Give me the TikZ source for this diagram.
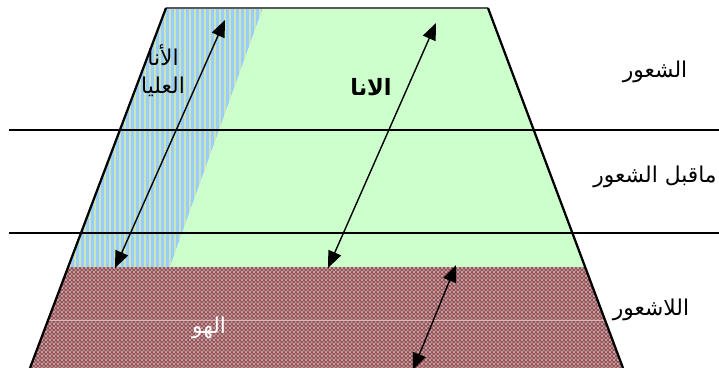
\documentclass[tikz,border=0pt]{standalone}
\usepackage{fontspec}
\usepackage{tikz}
\usetikzlibrary{arrows.meta,patterns}
\TeXXeTstate=1
\newfontfamily\arabicfont[Script=Arabic]{DejaVu Sans}
\definecolor{superblue}{RGB}{153,204,255}
\definecolor{superstripe}{RGB}{204,230,179}
\definecolor{egogreen}{RGB}{204,255,204}
\definecolor{idbrown}{RGB}{162,74,80}
\definecolor{idgray}{RGB}{178,168,168}
\pgfdeclarepatternformonly{idweave}{\pgfpointorigin}{\pgfqpoint{3pt}{3pt}}{\pgfqpoint{3pt}{3pt}}{%
  \pgfpathrectangle{\pgfpointorigin}{\pgfqpoint{1.5pt}{1.5pt}}%
  \pgfpathrectangle{\pgfqpoint{1.5pt}{1.5pt}}{\pgfqpoint{1.5pt}{1.5pt}}%
  \pgfusepath{fill}}
\tikzset{
  edgeline/.style={line width=1.6pt, black},
  levelline/.style={line width=1pt, black},
  dblarrow/.style={{Triangle[length=4.2mm,width=3.4mm]}-{Triangle[length=4.2mm,width=3.4mm]}, line width=1pt},
  arlabel/.style={font=\arabicfont\fontsize{15.5}{19}\selectfont, align=center, inner sep=1pt}
}
\begin{document}
\begin{tikzpicture}[x=0.025cm, y=-0.025cm]
  \useasboundingbox (0,0) rectangle (719,368);
  % corners of the trapezoid
  \coordinate (tl) at (166,8);
  \coordinate (tr) at (488,8);
  \coordinate (bl) at (30,368);
  \coordinate (br) at (623,368);
  \coordinate (sl) at (263,8);
  \coordinate (sb) at (170,267);
  \coordinate (idl) at (68,267);
  \coordinate (idr) at (585,267);

  % regions
  \fill[superblue] (tl) -- (sl) -- (sb) -- (idl) -- cycle;
  \begin{scope}
    \clip (tl) -- (sl) -- (sb) -- (idl) -- cycle;
    \foreach \x in {60,65,...,270}
      \draw[superstripe, line width=1.7pt] (\x,0) -- (\x,270);
  \end{scope}
  \fill[egogreen] (sl) -- (tr) -- (idr) -- (sb) -- cycle;
  \fill[idbrown] (idl) -- (idr) -- (br) -- (bl) -- cycle;
  \fill[pattern=idweave, pattern color=idgray] (idl) -- (idr) -- (br) -- (bl) -- cycle;
  \draw[idbrown!40!white, line width=0.6pt] (48,320) -- (605,320);

  % outline
  \draw[gray!70!black, line width=0.8pt] (tl) -- (tr);
  \draw[edgeline] (tl) -- (bl);
  \draw[edgeline] (tr) -- (br);

  % levels
  \coordinate (l1a) at (9,130);
  \coordinate (l1b) at (719,130);
  \coordinate (l2a) at (9,233);
  \coordinate (l2b) at (719,233);
  \draw[levelline] (l1a) -- (l1b);
  \draw[levelline] (l2a) -- (l2b);

  % arrows
  \coordinate (supA) at (115,268);
  \coordinate (supB) at (225,20);
  \coordinate (egoA) at (328,268);
  \coordinate (egoB) at (436,23);
  \coordinate (idA) at (456,265);
  \coordinate (idB) at (413,370);
  \draw[dblarrow] (supA) -- (supB);
  \draw[dblarrow] (egoA) -- (egoB);
  \draw[dblarrow] (idA) -- (idB);

  % labels
  \node[arlabel] (superego) at (163,71) {\beginR الأنا\endR\\[1pt]\beginR العليا\endR};
  \node[arlabel, font=\arabicfont\bfseries\fontsize{16}{19}\selectfont] (ego) at (371,87) {\beginR الانا\endR};
  \node[arlabel, text=white] (id) at (209,328) {\beginR الهو\endR};
  \node[arlabel] (conscious) at (655,72) {\beginR الشعور\endR};
  \node[arlabel] (preconscious) at (655,177) {\beginR ماقبل الشعور\endR};
  \node[arlabel] (unconscious) at (651,310) {\beginR اللاشعور\endR};
\end{tikzpicture}
\end{document}
